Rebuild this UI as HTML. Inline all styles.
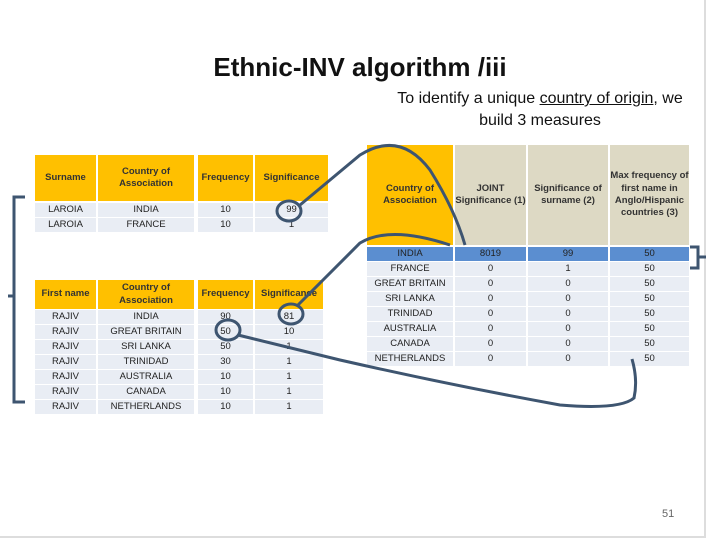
<!DOCTYPE html>
<html><head><meta charset="utf-8"><style>
body{margin:0;width:720px;height:540px;overflow:hidden;background:#fff;font-family:"Liberation Sans",sans-serif;}
#slide{position:absolute;left:0;top:0;width:704px;height:536px;border-right:2px solid #ddd;border-bottom:2px solid #ddd;background:#fff;}
.c{position:absolute;display:flex;align-items:center;justify-content:center;text-align:center;font-size:9.5px;color:#222;line-height:1.3;}
.h{background:#ffc000;font-weight:bold;color:#333;}
.g{background:#ddd9c4;font-weight:bold;color:#333;}
.r{background:#e9edf4;}
.b{background:#5b8ed0;color:#222;}
</style></head><body>
<div id="slide">
<div style="position:absolute;left:0;width:720px;top:52px;text-align:center;font-size:26px;font-weight:bold;color:#111;">Ethnic-INV algorithm /iii</div>
<div style="position:absolute;left:380px;width:320px;top:88px;text-align:center;font-size:16px;line-height:22px;color:#111;white-space:nowrap;">To identify a unique <u>country of origin</u>, we<br>build 3 measures</div>
<div id="t1"></div>
<div id="t2"></div>
<div id="t3"></div>
<svg width="720" height="540" style="position:absolute;left:0;top:0" fill="none" stroke="#3e5570" stroke-width="3">
<path d="M25 197 H14 V402 H25 M14 296 H8"/>
<path d="M690 247 H698 V268 H690 M698 257 H706"/>
<ellipse cx="289" cy="211" rx="12" ry="10"/>
<ellipse cx="291" cy="314" rx="12" ry="10"/>
<ellipse cx="228" cy="330" rx="12" ry="10"/>
<path d="M300 205 L360 155 Q400 130 430 170 Q455 210 465 245"/>
<path d="M298 305 L360 243 Q390 225 450 245"/>
<path d="M238 335 L340 360 Q450 385 560 405 Q620 410 634 398 Q638 380 632 359"/>
</svg>
<div style="position:absolute;left:662px;top:508px;font-size:11px;color:#666;">51</div>
</div>
<script>
const t1Head=["Surname","Country of Association","Frequency","Significance"];
const t1Rows=[["LAROIA","INDIA","10","99"],["LAROIA","FRANCE","10","1"]];
const t2Head=["First name","Country of Association","Frequency","Significance"];
const t2Rows=[["RAJIV","INDIA","90","81"],["RAJIV","GREAT BRITAIN","50","10"],["RAJIV","SRI LANKA","50","1"],["RAJIV","TRINIDAD","30","1"],["RAJIV","AUSTRALIA","10","1"],["RAJIV","CANADA","10","1"],["RAJIV","NETHERLANDS","10","1"]];
const t3Head=["Country of Association","JOINT Significance (1)","Significance of surname (2)","Max frequency of first name in Anglo/Hispanic countries (3)"];
const t3Rows=[["INDIA","8019","99","50"],["FRANCE","0","1","50"],["GREAT BRITAIN","0","0","50"],["SRI LANKA","0","0","50"],["TRINIDAD","0","0","50"],["AUSTRALIA","0","0","50"],["CANADA","0","0","50"],["NETHERLANDS","0","0","50"]];
function cell(p,x,y,w,h,txt,cls,name){
 const d=document.createElement('div');
 d.className='c '+cls;
 d.style.left=x+'px';d.style.top=y+'px';d.style.width=w+'px';d.style.height=h+'px';
 d.textContent=txt;
 
 
 p.appendChild(d);
}
function table(id,head,rows,xs,ws,hy,hh,ry,rh,hcls,special){
 const p=document.getElementById(id);
 head.forEach((t,i)=>cell(p,xs[i],hy,ws[i],hh,t,(typeof hcls==='function'?hcls(i):hcls),'header-cell'));
 rows.forEach((r,j)=>r.forEach((t,i)=>cell(p,xs[i],ry+j*rh,ws[i],rh-1,t,(special&&j===0?'b':'r'),'data-cell')));
}
table('t1',t1Head,t1Rows,[35,98,198,255],[61,96,55,73],155,46,203,15,'h');
table('t2',t2Head,t2Rows,[35,98,198,255],[61,96,55,68],280,29,310,15,'h');
table('t3',t3Head,t3Rows,[367,455,528,610],[86,71,80,79],145,100,247,15,i=>i===0?'h':'g',true);
</script>
</body></html>
